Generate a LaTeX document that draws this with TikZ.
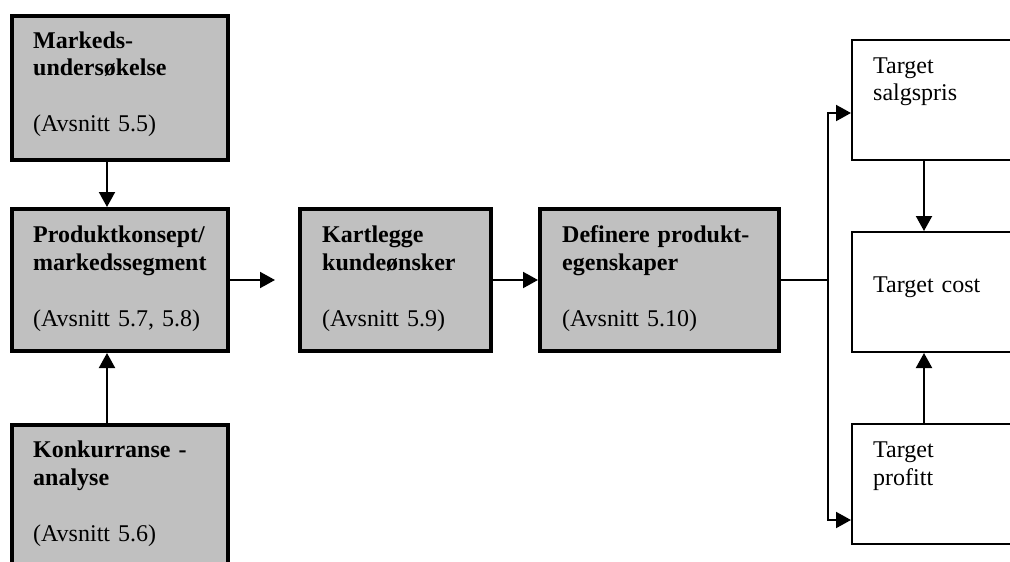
\documentclass[tikz,border=0pt]{standalone}
\usepackage{fontspec}
\setmainfont{Liberation Serif}
\usetikzlibrary{arrows.meta,calc}

\tikzset{
  graybox/.style={draw, line width=4pt, fill={rgb,255:red,192;green,192;blue,192}, anchor=north west, inner sep=0pt},
  whitebox/.style={draw, line width=2pt, fill=white, anchor=north west, inner sep=0pt},
  boxtext/.style={anchor=base west, inner sep=0pt, align=left, text width=200pt, font=\fontsize{24}{28}\selectfont},
  link/.style={line width=2pt},
  arr/.style={link, -{Triangle[length=15pt,width=16pt]}},
}

\begin{document}
\begin{tikzpicture}[x=1pt,y=1pt,yscale=-1,xscale=1]
\useasboundingbox (0,0) rectangle (1010,562);
\clip (0,0) rectangle (1010,562);

%Shape: gray boxes
\node [graybox, minimum width=216pt, minimum height=144pt] (markeds) at (10,14) {};
\node [graybox, minimum width=216pt, minimum height=142pt] (produkt) at (10,207) {};
\node [graybox, minimum width=216pt, minimum height=173pt] (konkurranse) at (10,423) {};
\node [graybox, minimum width=191pt, minimum height=142pt] (kartlegge) at (298,207) {};
\node [graybox, minimum width=239pt, minimum height=142pt] (definere) at (538,207) {};
%Shape: white boxes
\node [whitebox, minimum width=167pt, minimum height=120pt] (salgspris) at (851,39) {};
\node [whitebox, minimum width=167pt, minimum height=120pt] (cost) at (851,231) {};
\node [whitebox, minimum width=167pt, minimum height=120pt] (profitt) at (851,423) {};

%Straight Lines
\draw [arr] ($(markeds.south)+(-13,0)$) -- ($(produkt.north)+(-13,0)$);
\draw [arr] ($(konkurranse.north)+(-13,0)$) -- ($(produkt.south)+(-13,0)$);
\draw [arr] (produkt.east) -- ($(kartlegge.west)+(-23,0)$);
\draw [arr] (kartlegge.east) -- (definere.west);
\coordinate (split) at (828,280);
\draw [link] (definere.east) -- (split);
\draw [arr] (split) |- ($(salgspris.west)+(0,13)$);
\draw [arr] (split) |- ($(profitt.west)+(0,36)$);
\draw [arr] ($(salgspris.south)+(-11.5,0)$) -- ($(cost.north)+(-11.5,0)$);
\draw [arr] ($(profitt.north)+(-11.5,0)$) -- ($(cost.south)+(-11.5,0)$);

% Text Node
\node [boxtext] (markedstxt) at (33,48) {\textbf{Markeds-}\\\textbf{undersøkelse}\\[28pt](Avsnitt 5.5)};
% Text Node
\node [boxtext] (produkttxt) at (33,242) {\textbf{Produktkonsept/}\\\textbf{markedssegment}\\[28pt](Avsnitt 5.7, 5.8)};
% Text Node
\node [boxtext] (konkurransetxt) at (33,457) {\textbf{Konkurranse -}\\\textbf{analyse}\\[28pt](Avsnitt 5.6)};
% Text Node
\node [boxtext] (kartleggetxt) at (322,242) {\textbf{Kartlegge}\\\textbf{kundeønsker}\\[28pt](Avsnitt 5.9)};
% Text Node
\node [boxtext] (defineretxt) at (562,242) {\textbf{Definere produkt-}\\\textbf{egenskaper}\\[28pt](Avsnitt 5.10)};
% Text Node
\node [boxtext] (salgspristxt) at (873,73) {Target\\salgspris};
% Text Node
\node [boxtext] (costtxt) at (873,292) {Target cost};
% Text Node
\node [boxtext] (profitttxt) at (873,457) {Target\\profitt};

\end{tikzpicture}
\end{document}
